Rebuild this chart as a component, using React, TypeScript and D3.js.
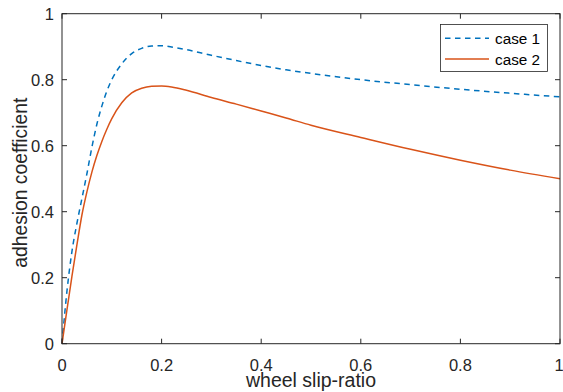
import React from "react";
import * as d3 from "d3";

const slip = [0, 0.01, 0.02, 0.03, 0.04, 0.05, 0.06, 0.07, 0.08, 0.09, 0.1, 0.12, 0.14, 0.16, 0.18, 0.2, 0.22, 0.25, 0.3, 0.35, 0.4, 0.45, 0.5, 0.6, 0.7, 0.8, 0.9, 1.0];
const case1 = [0, 0.16, 0.28, 0.365, 0.44, 0.515, 0.595, 0.665, 0.72, 0.765, 0.8, 0.848, 0.879, 0.895, 0.902, 0.903, 0.899, 0.891, 0.874, 0.858, 0.843, 0.830, 0.819, 0.800, 0.785, 0.771, 0.759, 0.748];
const case2 = [0, 0.103, 0.205, 0.3, 0.39, 0.46, 0.52, 0.57, 0.613, 0.65, 0.682, 0.73, 0.76, 0.774, 0.780, 0.781, 0.778, 0.768, 0.746, 0.726, 0.705, 0.684, 0.662, 0.625, 0.589, 0.556, 0.526, 0.5];
const xTicks = [0, 0.2, 0.4, 0.6, 0.8, 1];
const yTicks = [0, 0.2, 0.4, 0.6, 0.8, 1];
const seriesNames = ["case 1", "case 2"];

const W = 563, H = 392;
const L = 62, R = 560, T = 13.7, B = 343.7;
const AX = "#262626";
const FONT = "'Liberation Sans', Arial, Helvetica, sans-serif";

export default function App() {
  const x = d3.scaleLinear().domain([0, 1]).range([L, R]);
  const y = d3.scaleLinear().domain([0, 1]).range([B, T]);
  const line = d3
    .line<number>()
    .x((_, i) => x(slip[i]))
    .y((d) => y(d))
    .curve(d3.curveMonotoneX);
  const fmt = (v: number) => String(v);
  return (
    <svg width={W} height={H} style={{ position: "absolute", left: 0, top: 0, background: "#fff" }} fontFamily={FONT}>
      <rect x={0} y={0} width={W} height={H} fill="#fff" />
      <path d={line(case1) || ""} fill="none" stroke="#0072BD" strokeWidth={1.5} strokeDasharray="5.5,4.5" />
      <path d={line(case2) || ""} fill="none" stroke="#D95319" strokeWidth={1.5} />
      <rect x={L} y={T} width={R - L} height={B - T} fill="none" stroke={AX} strokeWidth={1} />
      {xTicks.map((t) => (
        <g key={"x" + t}>
          <line x1={x(t)} x2={x(t)} y1={B} y2={B - 5} stroke={AX} />
          <line x1={x(t)} x2={x(t)} y1={T} y2={T + 5} stroke={AX} />
          <text x={t === 1 ? x(t) - 1 : x(t)} y={370.5} textAnchor="middle" fontSize={16.5} fill={AX}>{fmt(t)}</text>
        </g>
      ))}
      {yTicks.map((t) => (
        <g key={"y" + t}>
          <line x1={L} x2={L + 5} y1={y(t)} y2={y(t)} stroke={AX} />
          <line x1={R} x2={R - 5} y1={y(t)} y2={y(t)} stroke={AX} />
          <text x={54} y={y(t) + 6.3} textAnchor="end" fontSize={16.5} fill={AX}>{fmt(t)}</text>
        </g>
      ))}
      <text x={(L + R) / 2} y={387} textAnchor="middle" fontSize={19.5} fill={AX}>wheel slip-ratio</text>
      <text transform={`translate(27,${(T + B) / 2 + 4}) rotate(-90)`} textAnchor="middle" fontSize={19.3} fill={AX}>adhesion coefficient</text>
      <g>
        <rect x={440.5} y={24.5} width={107} height={47} fill="#fff" stroke={AX} strokeWidth={0.8} />
        <line x1={445} x2={489} y1={38.3} y2={38.3} stroke="#0072BD" strokeWidth={1.5} strokeDasharray="5.5,4.5" />
        <line x1={445} x2={489} y1={59} y2={59} stroke="#D95319" strokeWidth={1.5} />
        <text x={495} y={44} fontSize={15.3} fill="#000">{seriesNames[0]}</text>
        <text x={495} y={65} fontSize={15.3} fill="#000">{seriesNames[1]}</text>
      </g>
    </svg>
  );
}
